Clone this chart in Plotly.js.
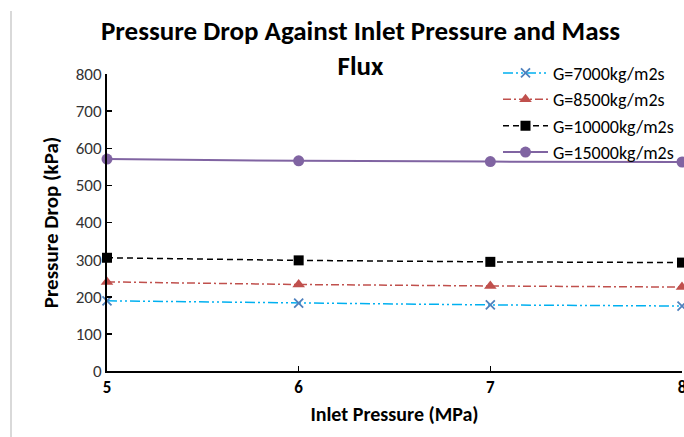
<!DOCTYPE html>
<html><head><meta charset="utf-8">
<script src="https://cdn.plot.ly/plotly-3.0.1.min.js"></script>
<style>html,body{margin:0;padding:0;background:#fff;}#c{width:684px;height:437px;position:relative;overflow:hidden;}#bl{position:absolute;left:10px;top:11px;width:2px;height:426px;background:#d9d9d9;z-index:5;}</style>
</head><body>
<div id="c"><div id="bl"></div></div>
<script>
const inletPressure = [5, 6, 7, 8];
const g7000 = [189, 183, 178, 175];
const g8500 = [240, 233, 229, 226];
const g10000 = [305, 298, 294, 292];
const g15000 = [571, 566, 564, 563];
const seriesNames = ['G=7000kg/m2s', 'G=8500kg/m2s', 'G=10000kg/m2s', 'G=15000kg/m2s'];
const yTicks = [0, 100, 200, 300, 400, 500, 600, 700, 800];

const FONT = 'Calibri, Carlito, Lato, "Open Sans", sans-serif';
const traces = [
  {x: inletPressure, y: g7000, name: seriesNames[0], mode: 'lines+markers', cliponaxis: false,
   line: {color: '#00B0F0', width: 1.5, dash: '10px,3px,2px,3px,2px,3px'},
   marker: {symbol: 'x-thin', size: 9, line: {color: '#4F81BD', width: 1.8}, color: '#4F81BD'}},
  {x: inletPressure, y: g8500, name: seriesNames[1], mode: 'lines+markers', cliponaxis: false,
   line: {color: '#C0504D', width: 1.5, dash: '8px,3px,2px,3px'},
   marker: {symbol: 'triangle-up', size: 11, color: '#C0504D'}},
  {x: inletPressure, y: g10000, name: seriesNames[2], mode: 'lines+markers', cliponaxis: false,
   line: {color: '#000000', width: 1.5, dash: '6px,4px'},
   marker: {symbol: 'square', size: 10, color: '#000000'}},
  {x: inletPressure, y: g15000, name: seriesNames[3], mode: 'lines+markers', cliponaxis: false,
   line: {color: '#8064A2', width: 2},
   marker: {symbol: 'circle', size: 11, color: '#8064A2'}}
];

const layout = {
  width: 684, height: 437,
  margin: {l: 107, r: 2, t: 74, b: 66},
  paper_bgcolor: '#fff', plot_bgcolor: '#fff',
  font: {family: FONT, size: 17, color: '#000'},
  title: {text: '<b>Pressure Drop Against Inlet Pressure and Mass<br>Flux</b>',
    font: {family: FONT, size: 27, color: '#000'}, x: 0.527, xanchor: 'center', y: 0.908, yanchor: 'middle'},
  xaxis: {range: [5, 8], tickvals: inletPressure, ticktext: inletPressure.map(String),
    showgrid: false, zeroline: false, showline: true, linecolor: '#000', linewidth: 2,
    ticks: 'inside', ticklen: 5, tickcolor: '#000', tickwidth: 1.5, ticklabeloverflow: 'allow',
    tickfont: {family: FONT, size: 17, color: '#000', weight: 'bold'},
    title: {text: '<b>Inlet Pressure (MPa)</b>', font: {family: FONT, size: 20, color: '#000'}, standoff: 10}},
  yaxis: {range: [0, 800], tickvals: yTicks, showgrid: false, zeroline: false,
    showline: true, linecolor: '#000', linewidth: 2,
    ticks: 'inside', ticklen: 5, tickcolor: '#000', tickwidth: 1.5,
    tickfont: {family: FONT, size: 17, color: '#333'},
    title: {text: '<b>Pressure Drop (kPa)</b>', font: {family: FONT, size: 21, color: '#000'}, standoff: 11}},
  legend: {x: 0.68, y: 1.065, xanchor: 'left', yanchor: 'top', bgcolor: 'rgba(0,0,0,0)',
    font: {family: FONT, size: 18, color: '#000'}, tracegroupgap: 0, itemwidth: 45},
  showlegend: true
};
Plotly.newPlot('c', traces, layout, {displayModeBar: false, staticPlot: true});
</script>
</body></html>
